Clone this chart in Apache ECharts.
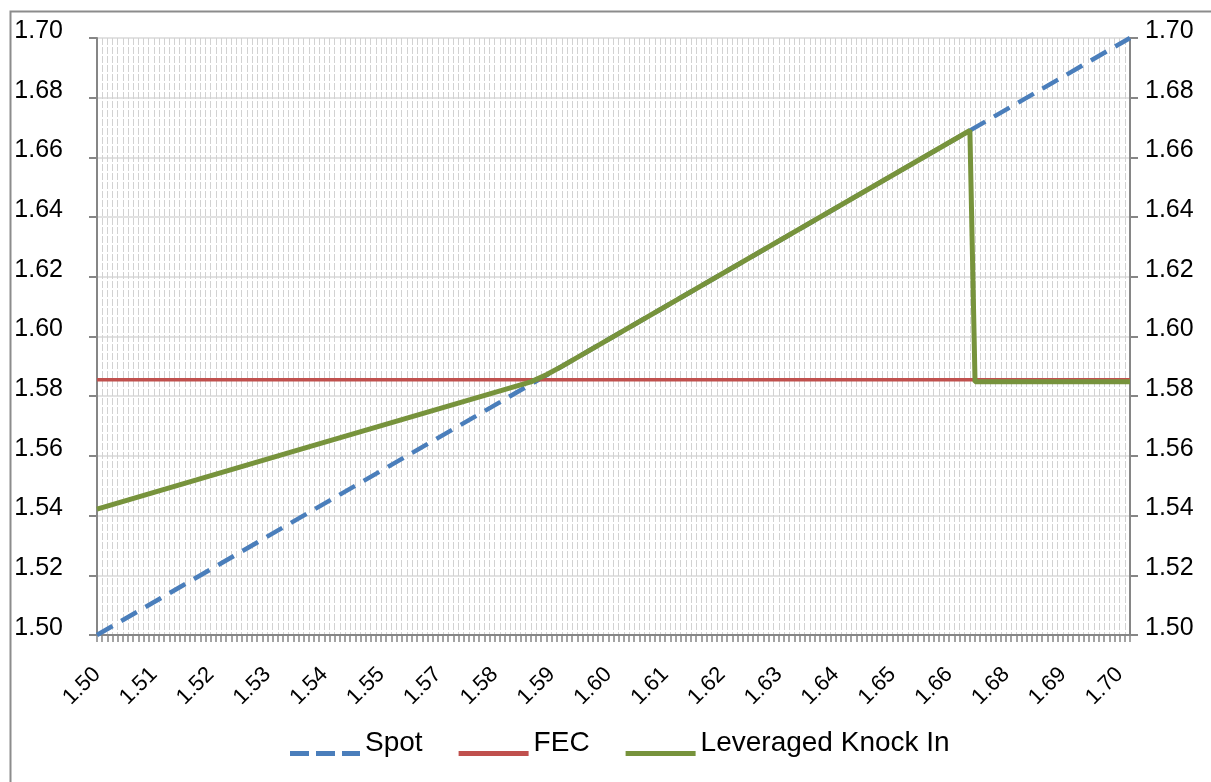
<!DOCTYPE html>
<html>
<head>
<meta charset="utf-8">
<script src="https://cdn.jsdelivr.net/npm/echarts@6/dist/echarts.min.js"></script>
<style>
  html, body { margin: 0; padding: 0; background: #fff; }
  #chart { width: 1211px; height: 782px; }
</style>
</head>
<body>
<div id="chart"></div>
<script>
// x categories: spot rate from 1.500 to 1.700, one step per 0.001
var categories = [];
for (var i = 0; i <= 200; i++) categories.push((1.5 + i * 0.001).toFixed(3));

// labels Excel shows on every 11th category
var xTickLabels = ['1.50', '1.51', '1.52', '1.53', '1.54', '1.55', '1.57', '1.58', '1.59', '1.60',
  '1.61', '1.62', '1.63', '1.64', '1.65', '1.66', '1.68', '1.69', '1.70'];

// series, as [category, rate] key points
var spotData = [['1.500', 1.5], ['1.700', 1.7]];
var fecData = [['1.500', 1.5855], ['1.700', 1.5855]];
var knockInData = [
  ['1.500', 1.5422], ['1.540', 1.5625], ['1.584', 1.5848], ['1.587', 1.5872],
  ['1.590', 1.5900], ['1.669', 1.6690], ['1.670', 1.5848], ['1.700', 1.5848]
];

var axisGray = '#868686';
var font = 'Liberation Sans';

// legend icons: the line sits low in the box, as Excel draws it
var solidIcon = 'path://M0,0M0,21L70,21L70,26L0,26Z';
var dashIcon = 'path://M0,0M0,21L19,21L19,26L0,26ZM26,21L45,21L45,26L26,26ZM52,21L70,21L70,26L52,26Z';

var myChart = echarts.init(document.getElementById('chart'));
myChart.setOption({
  animation: false,
  textStyle: { fontFamily: font },
  graphic: [{
    type: 'rect',
    left: 8, top: 9,
    shape: { width: 1215, height: 785 },
    style: { fill: 'none', stroke: '#8c8c8c', lineWidth: 2 },
    silent: true
  }],
  grid: { left: 97, right: 81, top: 38, bottom: 147 },
  legend: {
    left: 285,
    top: 724,
    itemWidth: 70,
    itemHeight: 26,
    itemGap: 36,
    textStyle: { fontSize: 28, color: '#000', fontFamily: font },
    data: [
      { name: 'Spot', icon: dashIcon },
      { name: 'FEC', icon: solidIcon },
      { name: 'Leveraged Knock In', icon: solidIcon }
    ]
  },
  xAxis: {
    type: 'category',
    data: categories,
    boundaryGap: false,
    axisLine: { lineStyle: { color: axisGray, width: 2 } },
    axisTick: { interval: 0, length: 7, lineStyle: { color: axisGray, width: 1.5 } },
    axisLabel: {
      interval: function (i) { return i % 11 === 0; },
      formatter: function (v, i) { return xTickLabels[i / 11]; },
      rotate: 45,
      margin: 36,
      fontSize: 22,
      color: '#000'
    },
    splitLine: {
      show: true,
      interval: 0,
      lineStyle: { color: '#d2d2d2', width: 1, type: [7, 2] }
    }
  },
  yAxis: [{
    type: 'value',
    min: 1.5, max: 1.7, interval: 0.02,
    position: 'left',
    axisLine: { show: true, lineStyle: { color: axisGray, width: 2 } },
    axisTick: { show: true, length: 8, lineStyle: { color: axisGray, width: 2 } },
    axisLabel: {
      margin: 34, fontSize: 25, color: '#000',
      verticalAlign: 'bottom', lineHeight: 14,
      formatter: function (v) { return v.toFixed(2); }
    },
    splitLine: { lineStyle: { color: '#d9d9d9', width: 1.5 } }
  }, {
    type: 'value',
    min: 1.5, max: 1.7, interval: 0.02,
    position: 'right',
    axisLine: { show: true, lineStyle: { color: axisGray, width: 2 } },
    axisTick: { show: true, length: 8, lineStyle: { color: axisGray, width: 2 } },
    axisLabel: {
      margin: 15, fontSize: 25, color: '#000',
      verticalAlign: 'bottom', lineHeight: 14,
      formatter: function (v) { return v.toFixed(2); }
    },
    splitLine: { show: false }
  }],
  series: [
    {
      name: 'Spot',
      type: 'line',
      symbol: 'none',
      data: spotData,
      lineStyle: { color: '#4a7ebb', width: 4.5, type: [18, 10] },
      itemStyle: { color: '#4a7ebb' }
    },
    {
      name: 'FEC',
      type: 'line',
      symbol: 'none',
      data: fecData,
      lineStyle: { color: '#c0504d', width: 3.5 },
      itemStyle: { color: '#c0504d' }
    },
    {
      name: 'Leveraged Knock In',
      type: 'line',
      symbol: 'none',
      data: knockInData,
      lineStyle: { color: '#77933c', width: 5 },
      itemStyle: { color: '#77933c' }
    }
  ]
});
</script>
</body>
</html>
